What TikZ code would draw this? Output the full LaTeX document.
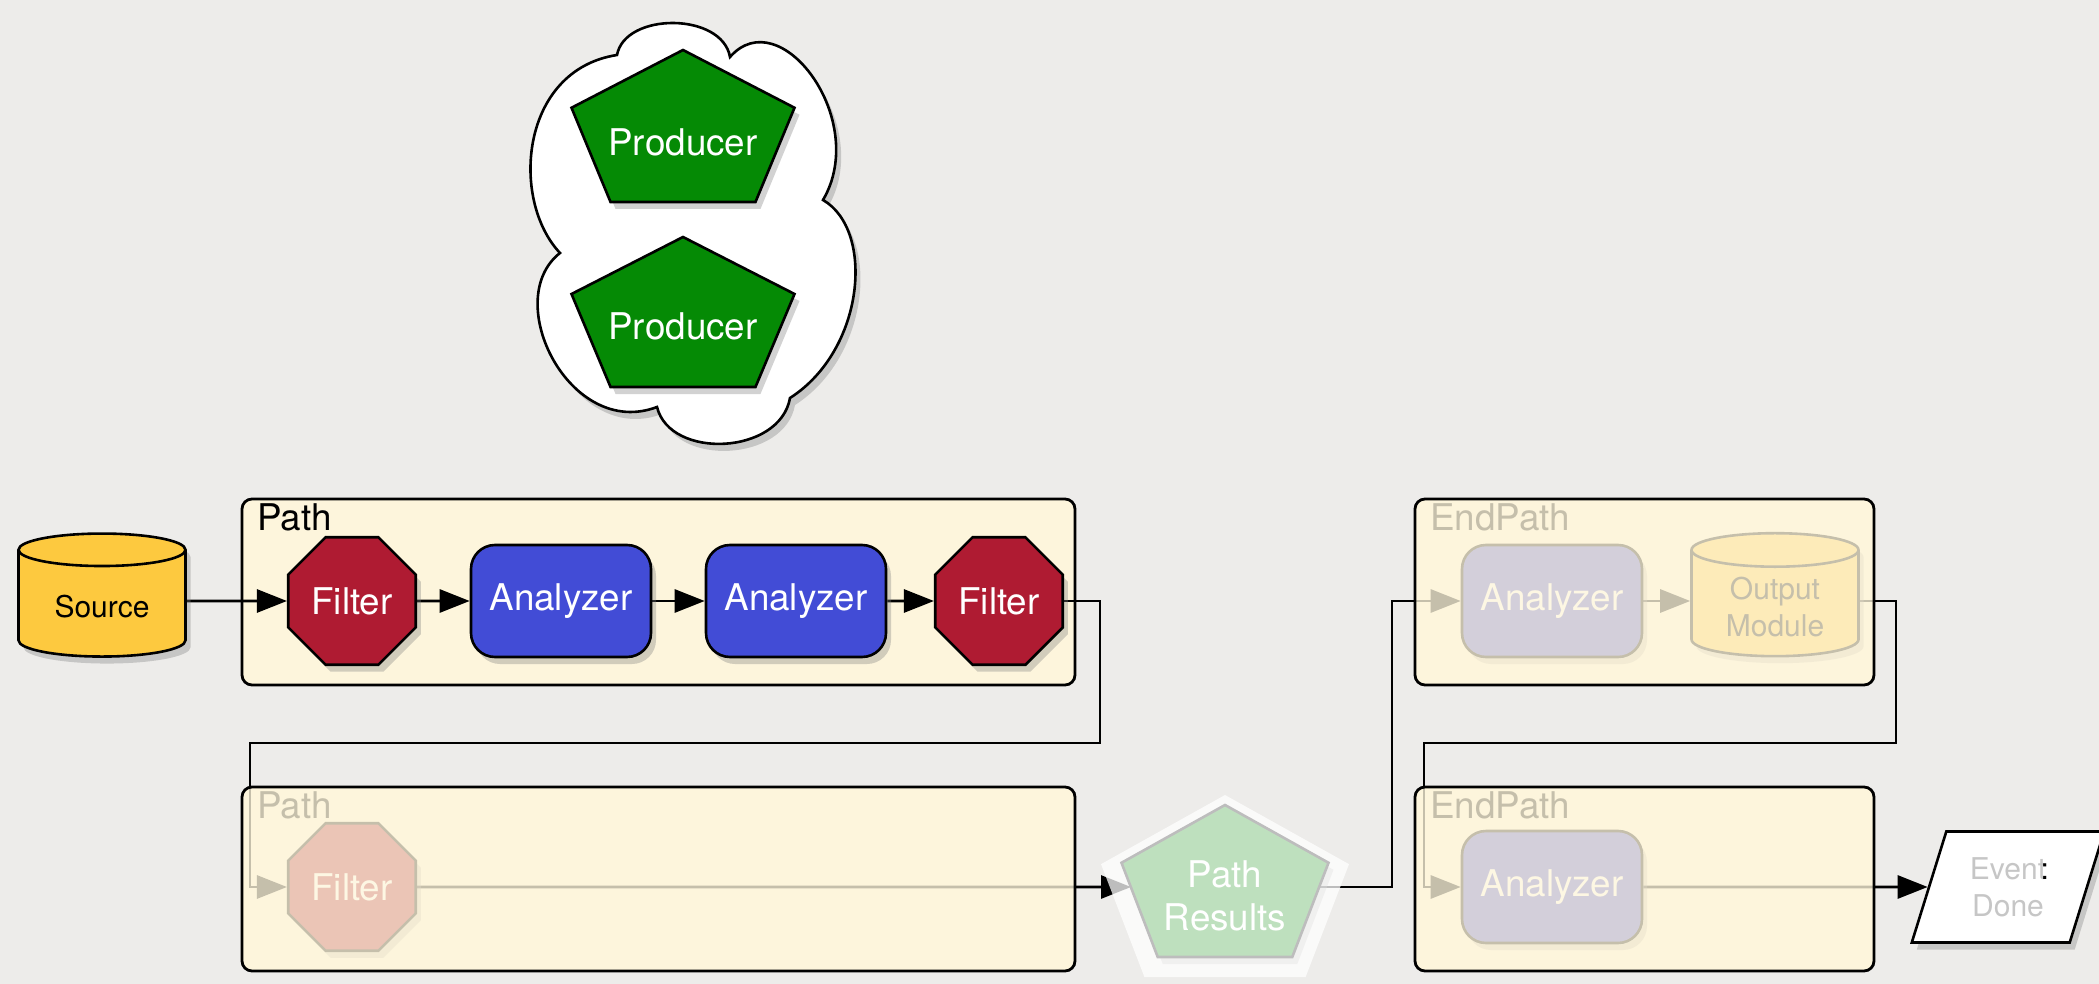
\documentclass[tikz,border=0pt]{standalone}
\usepackage{fontspec}
\setmainfont{TeX Gyre Heros}
\usetikzlibrary{shapes.geometric,arrows.meta,calc,shadows}

\definecolor{backdrop}{HTML}{EDECEA}
\definecolor{boxcream}{HTML}{FDF5DC}
\definecolor{filterred}{HTML}{AF1B32}
\definecolor{analyzerblue}{HTML}{424CD6}
\definecolor{sourcegold}{HTML}{FDC93F}
\definecolor{producergreen}{HTML}{058A05}
\definecolor{eventgray}{HTML}{C6C6C6}

\pgfdeclarelayer{bg}
\pgfdeclarelayer{wires}
\pgfdeclarelayer{veil}
\pgfdeclarelayer{rims}
\pgfsetlayers{bg,wires,main,veil,rims}

\newcommand{\bigtext}{\fontsize{18.4pt}{21.5pt}\selectfont}
\newcommand{\smalltext}{\fontsize{15pt}{18.5pt}\selectfont}

% pentagon around a centre: half width, half height
\newcommand{\pentagonpath}[3]{%
  ($(#1)+(0,-#3)$) -- ($(#1)+(#2,-0.24*#3)$) -- ($(#1)+(0.65*#2,#3)$)
  -- ($(#1)+(-0.65*#2,#3)$) -- ($(#1)+(-#2,-0.24*#3)$) -- cycle}

\tikzset{
  shade/.style={drop shadow={shadow xshift=2.5pt, shadow yshift=-3.5pt,
      opacity=0.35}},
  module/.style={draw, line width=1.3pt, shade, font=\bigtext, text=white},
  filter/.style={module, regular polygon, regular polygon sides=8,
      minimum size=69pt, inner sep=0pt, fill=filterred},
  analyzer/.style={module, rounded corners=12pt, minimum width=90pt,
      minimum height=56pt, fill=analyzerblue},
  store/.style={module, cylinder, shape border rotate=90, aspect=0.3,
      minimum width=83.5pt, minimum height=61.5pt, fill=sourcegold,
      font=\smalltext, text=black, align=center},
  producer/.style={draw, line width=1.3pt, fill=producergreen, shade},
  prodtext/.style={font=\bigtext, text=white, align=center},
  event/.style={draw, line width=1.3pt, fill=white, shade, trapezium,
      trapezium left angle=71, trapezium right angle=109,
      trapezium stretches=true, minimum width=96.5pt, minimum height=55.5pt,
      font=\smalltext, text=eventgray, align=center},
  pathbox/.style={fill=boxcream, rounded corners=5pt, outer sep=0pt, inner sep=0pt},
  boxrim/.style={draw, line width=1.4pt, rounded corners=5pt},
  veil/.style={fill=boxcream, fill opacity=0.78, rounded corners=5pt},
  boxlabel/.style={anchor=base west, font=\bigtext, inner sep=0pt},
  link/.style={line width=1.4pt, -{Triangle[length=15pt,width=11.5pt]}},
}

\begin{document}
\begin{tikzpicture}[x=0.5pt, y=-0.5pt]
\useasboundingbox (0,0) rectangle (2099,984);

\begin{pgfonlayer}{bg}
  \fill[backdrop] (0,0) rectangle (2099,984);
  \node[pathbox, minimum width=416.5pt, minimum height=93pt] (pathA) at (658.5,592) {};
  \node[pathbox, minimum width=416.5pt, minimum height=92pt] (pathB) at (658.5,879) {};
  \node[pathbox, minimum width=229.5pt, minimum height=93pt] (endA) at (1644.5,592) {};
  \node[pathbox, minimum width=229.5pt, minimum height=92pt] (endB) at (1644.5,879) {};
\end{pgfonlayer}

% the cloud with the two producers
\draw[line width=1.3pt, fill=white, shade] (617,55)
  .. controls (625,12) and (722,12) .. (730,57)
  .. controls (780,0) and (870,120) .. (823,200)
  .. controls (875,230) and (865,350) .. (790,398)
  .. controls (780,455) and (670,460) .. (657,407)
  .. controls (570,440) and (500,300) .. (560,253)
  .. controls (510,200) and (520,70) .. (617,55) -- cycle;
\draw[producer] \pentagonpath{683,126}{111.5}{76};
\node[prodtext] (prodA) at (683,142) {Producer};
\draw[producer] \pentagonpath{683,312}{111.5}{75};
\node[prodtext] (prodB) at (683,326) {Producer};

% box titles
\node[boxlabel] (pathAlabel) at (257,530) {Path};
\node[boxlabel] (pathBlabel) at (257,818) {Path};
\node[boxlabel] (endAlabel) at (1430,530) {EndPath};
\node[boxlabel] (endBlabel) at (1430,818) {EndPath};

% modules
\node[store] (source) at (102,607) {Source};
\node[filter] (filterA) at (352,601) {Filter};
\node[analyzer] (anaA) at (561,601) {Analyzer};
\node[analyzer] (anaB) at (796,601) {Analyzer};
\node[filter] (filterB) at (999,601) {Filter};
\node[filter] (filterC) at (352,887) {Filter};
\node[analyzer] (anaC) at (1552,601) {Analyzer};
\node[store] (outmod) at (1775,607) {Output\\Module};
\node[analyzer] (anaD) at (1552,887) {Analyzer};

\draw[producer] \pentagonpath{1225,881}{103.5}{76};
\node[prodtext] (results) at (1225,896) {Path\\Results};
\coordinate (resin) at (1131,887);
\coordinate (resout) at (1319,887);

\node[event] (event) at (2008,887) {Event\llap{\textcolor{black}{:}\kern-0.1em}\\Done};

% bends of the wires
\coordinate (bendA) at (1100,743);
\coordinate (bendB) at (250,743);
\coordinate (bendC) at (1392,601);
\coordinate (bendD) at (1896,743);
\coordinate (bendE) at (1424,743);

\begin{pgfonlayer}{wires}
  \draw[link] (source.east |- filterA) -- (filterA);
  \draw[link] (filterA) -- (anaA);
  \draw[link] (anaA) -- (anaB);
  \draw[link] (anaB) -- (filterB);
  \draw[link] (filterB.east) -| (bendA) -- (bendB) |- (filterC.west);
  \draw[link] (filterC.east) -- (resin);
  \draw[link] (resout) -| (bendC) -- (anaC.west);
  \draw[link] (anaC) -- (anaC -| outmod.west);
  \draw[link] (outmod.east |- anaC) -| (bendD) -- (bendE) |- (anaD.west);
  \draw[link] (anaD) -- (event);
\end{pgfonlayer}

% greyed out parts
\begin{pgfonlayer}{veil}
  \fill[veil] (pathB.north west) rectangle (pathB.south east);
  \fill[veil] (endA.north west) rectangle (endA.south east);
  \fill[veil] (endB.north west) rectangle (endB.south east);
  \fill[white, fill opacity=0.74] \pentagonpath{1225,886}{124}{91};
\end{pgfonlayer}

\begin{pgfonlayer}{rims}
  \draw[boxrim] (pathA.north west) rectangle (pathA.south east);
  \draw[boxrim] (pathB.north west) rectangle (pathB.south east);
  \draw[boxrim] (endA.north west) rectangle (endA.south east);
  \draw[boxrim] (endB.north west) rectangle (endB.south east);
\end{pgfonlayer}
\end{tikzpicture}
\end{document}
